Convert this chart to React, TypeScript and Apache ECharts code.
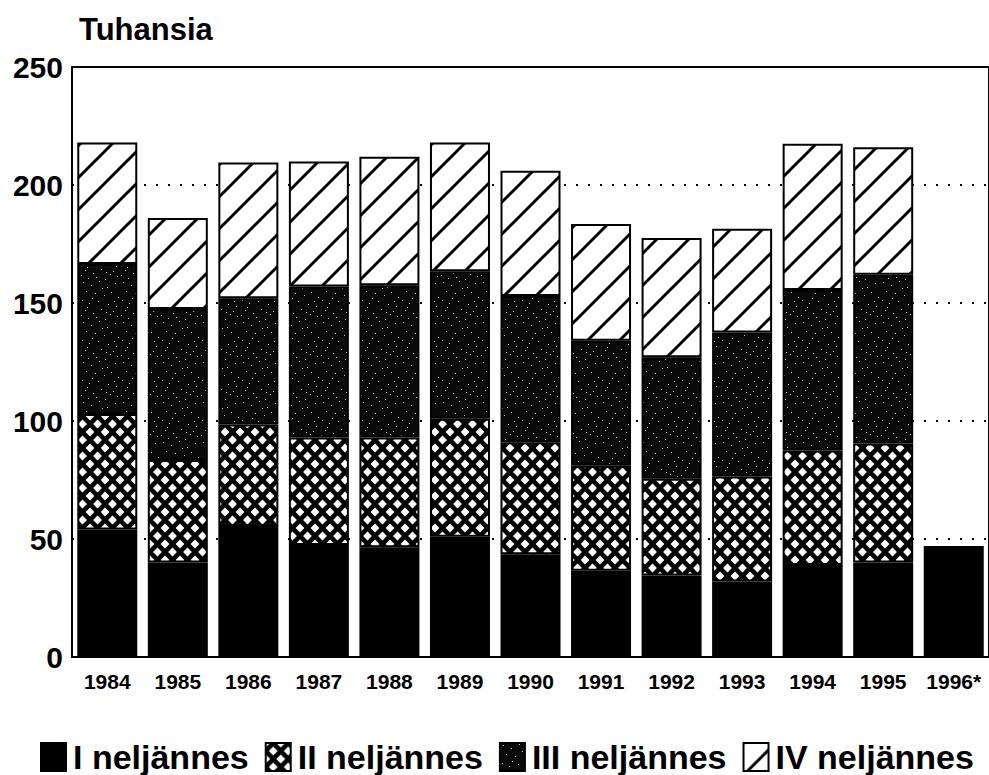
import React, { useEffect, useRef } from "react";
import * as echarts from "echarts";

const categories = ["1984", "1985", "1986", "1987", "1988", "1989", "1990", "1991", "1992", "1993", "1994", "1995", "1996*"];
const q1 = [54, 40, 55.5, 47.5, 46.5, 51, 43.5, 36.5, 34.5, 32, 39, 40, 47];
const q2 = [49, 43.5, 43, 45.5, 46.5, 50, 47.5, 44.5, 41, 44.5, 48.5, 50.5, null];
const q3 = [63.5, 64, 53.5, 64, 64.5, 62.5, 62, 53, 51.5, 61, 68, 71.5, null];
const q4 = [51.5, 38.5, 57.5, 53, 54.5, 54.5, 53, 49.5, 50.5, 44, 62, 54, null];
const seriesNames = ["I neljännes", "II neljännes", "III neljännes", "IV neljännes"];
const yTicks = [0, 50, 100, 150, 200, 250];

const FONT = "'Liberation Sans', Arial, sans-serif";

function makePattern(w: number, h: number, draw: (ctx: CanvasRenderingContext2D) => void) {
  const c = document.createElement("canvas");
  c.width = w;
  c.height = h;
  const ctx = c.getContext("2d") as CanvasRenderingContext2D;
  draw(ctx);
  return { image: c, repeat: "repeat", imageWidth: w, imageHeight: h } as any;
}

const stippleDots: [number, number][] = [
  [3, 2], [11, 5], [19, 1], [27, 7], [35, 3], [6, 11], [15, 13], [24, 15], [31, 12], [38, 17],
  [2, 20], [9, 23], [18, 21], [28, 24], [36, 26], [5, 30], [13, 33], [21, 29], [30, 34], [37, 36],
  [8, 38], [16, 37], [25, 39], [33, 31], [1, 35], [22, 8], [12, 18], [34, 21], [7, 27], [26, 32],
];

export default function App() {
  const ref = useRef<HTMLDivElement>(null);
  useEffect(() => {
    if (!ref.current) return;
    const chart = echarts.init(ref.current, undefined, { renderer: "svg" });

    const crossPattern = makePattern(15, 16, (ctx) => {
      ctx.fillStyle = "#000";
      ctx.fillRect(0, 0, 15, 16);
      ctx.fillStyle = "#fff";
      const d = 4.4;
      const diamond = (cx: number, cy: number) => {
        ctx.beginPath();
        ctx.moveTo(cx, cy - d);
        ctx.lineTo(cx + d, cy);
        ctx.lineTo(cx, cy + d);
        ctx.lineTo(cx - d, cy);
        ctx.closePath();
        ctx.fill();
      };
      diamond(7.5, 8);
      diamond(0, 0);
      diamond(15, 0);
      diamond(0, 16);
      diamond(15, 16);
    });

    const stipplePattern = makePattern(40, 40, (ctx) => {
      ctx.fillStyle = "#0a0a0a";
      ctx.fillRect(0, 0, 40, 40);
      ctx.fillStyle = "#c8c8c8";
      stippleDots.forEach(([x, y]) => ctx.fillRect(x, y, 1, 1));
    });

    const hatchPattern = makePattern(32, 32, (ctx) => {
      ctx.fillStyle = "#fff";
      ctx.fillRect(0, 0, 32, 32);
      ctx.strokeStyle = "#000";
      ctx.lineWidth = 3;
      for (const off of [-32, 0, 32]) {
        ctx.beginPath();
        ctx.moveTo(off - 2, 34);
        ctx.lineTo(off + 34, -2);
        ctx.stroke();
      }
    });

    const fills = ["#000", crossPattern, stipplePattern, hatchPattern];
    const data = [q1, q2, q3, q4];

    chart.setOption({
      animation: false,
      backgroundColor: "#fff",
      title: {
        text: "Tuhansia",
        left: 74,
        top: 9,
        textStyle: { fontFamily: FONT, fontSize: 31, fontWeight: "bold", color: "#000" },
      },
      legend: {
        left: 35,
        top: 735,
        icon: "rect",
        itemWidth: 25,
        itemHeight: 28,
        itemGap: 16,
        data: seriesNames,
        textStyle: { fontFamily: FONT, fontSize: 34, fontWeight: "bold", color: "#000", padding: [0, 0, 0, 2] },
      },
      grid: {
        left: 72,
        top: 67,
        right: -3,
        bottom: 118,
        show: true,
        borderColor: "#000",
        borderWidth: 2,
        backgroundColor: "transparent",
      },
      xAxis: {
        type: "category",
        data: categories,
        axisLine: { show: true, lineStyle: { color: "#000", width: 2 } },
        axisTick: { show: false },
        axisLabel: { interval: 0, fontFamily: FONT, fontSize: 21, fontWeight: "bold", color: "#000", margin: 14 },
      },
      yAxis: {
        type: "value",
        min: yTicks[0],
        max: yTicks[yTicks.length - 1],
        interval: 50,
        axisLine: { show: true, lineStyle: { color: "#000", width: 2 } },
        axisTick: { show: false },
        axisLabel: { fontFamily: FONT, fontSize: 30, fontWeight: "bold", color: "#000", margin: 9 },
        splitLine: { show: true, lineStyle: { color: "#000", width: 2, type: [2, 10] } },
      },
      series: seriesNames.map((name, i) => ({
        name,
        type: "bar",
        stack: "total",
        barWidth: 60,
        data: data[i],
        itemStyle: { color: fills[i], borderColor: "#000", borderWidth: 2 },
      })),
    });
    return () => chart.dispose();
  }, []);
  return (
    <div
      ref={ref}
      style={{ position: "absolute", left: 0, top: 0, width: 989, height: 775, background: "#fff" }}
    />
  );
}
